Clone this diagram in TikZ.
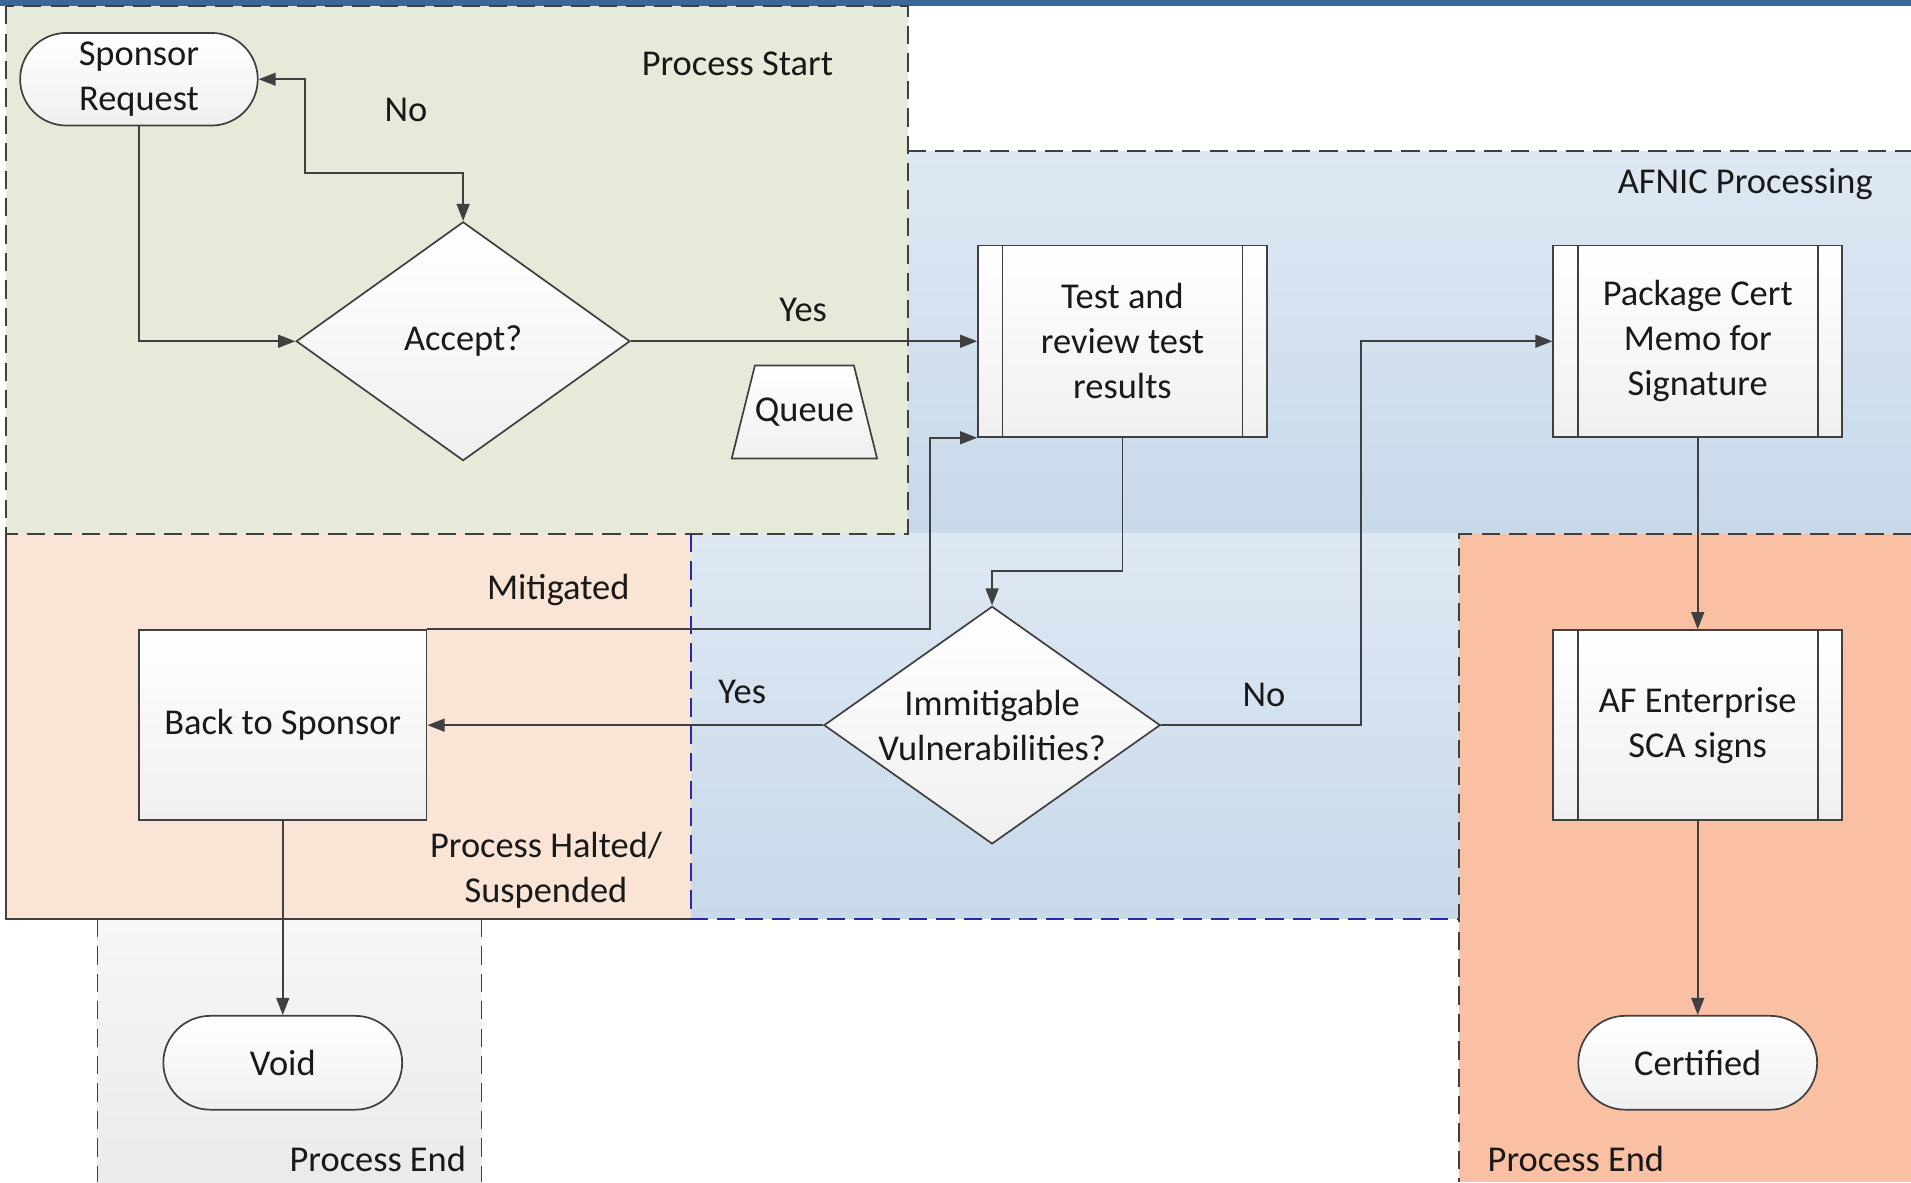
\documentclass[tikz,border=0pt]{standalone}
\usepackage{fontspec}
\setmainfont{Carlito}
\usepackage{xcolor}
\usepackage{tikz}
\usetikzlibrary{shapes,arrows,positioning,calc,arrows.meta}

\definecolor{startgreen}{RGB}{230,234,217}
\definecolor{haltpeach}{RGB}{249,228,213}
\definecolor{afnictop}{RGB}{222,232,243}
\definecolor{afnicbot}{RGB}{200,217,234}
\definecolor{endsalmon}{RGB}{250,192,163}
\definecolor{topbar}{RGB}{58,103,152}
\definecolor{laneblue}{RGB}{40,40,170}
\definecolor{linegray}{RGB}{64,64,64}

\begin{document}
\begin{tikzpicture}[x=0.02cm, y=-0.02cm,
    every node/.style={font=\fontsize{17}{21}\selectfont, text=black!90},
    lane/.style={draw=linegray, line width=0.8pt, dash pattern=on 0.3cm off 0.15cm},
    shapefill/.style={draw=linegray, line width=0.8pt, top color=white, bottom color=gray!12},
    terminal/.style={shapefill, rectangle, rounded corners=0.77cm, minimum width=3.92cm, minimum height=1.54cm, align=center},
    decision/.style={shapefill, diamond, inner sep=0pt, shape aspect=1.4, align=center},
    plainbox/.style={shapefill, rectangle, minimum width=4.72cm, minimum height=3.12cm, align=center},
    procbox/.style={plainbox, path picture={
        \draw[linegray, line width=0.8pt] ([xshift=0.4cm]path picture bounding box.north west) -- ([xshift=0.4cm]path picture bounding box.south west)
            ([xshift=-0.4cm]path picture bounding box.north east) -- ([xshift=-0.4cm]path picture bounding box.south east);}},
    arr/.style={draw=linegray, line width=0.9pt, -{Triangle[length=8pt, width=6pt]}}]

    \useasboundingbox (0,0) rectangle (1568,970);

    % lanes
    \fill[startgreen] (5,5) rectangle (745,438);
    \shade[top color=afnictop, bottom color=afnicbot] (745,124) rectangle (1568,438);
    \shade[top color=afnictop, bottom color=afnicbot] (567,438) rectangle (1197,754);
    \fill[haltpeach] (5,438) rectangle (567,754);
    \shade[top color=gray!7, bottom color=gray!16] (80,754) rectangle (395,970);
    \fill[endsalmon] (1197,438) rectangle (1568,970);
    \fill[topbar] (0,0) rectangle (1568,5);

    \draw[lane] (5,5) rectangle (745,438);
    \draw[lane] (745,124) -- (1568,124);
    \draw[lane, draw=laneblue] (567,438) -- (567,754) -- (1197,754);
    \draw[linegray, line width=0.8pt] (5,438) -- (5,754) -- (567,754);
    \draw[lane] (80,754) -- (80,970) (395,754) -- (395,970);
    \draw[lane] (1568,438) -- (1197,438) -- (1197,970);

    \node (startlbl) at (605,52) {Process Start};
    \node (afniclbl) at (1432,151) {AFNIC Processing};
    \node (mitlbl) at (458,484) {Mitigated};
    \node[align=center] (haltlbl) at (448,714) {Process Halted/\\Suspended};
    \node (voidend) at (310,951) {Process End};
    \node (certend) at (1293,951) {Process End};

    % steps
    \node[terminal, minimum width=3.9cm, minimum height=1.52cm, rounded corners=0.76cm] (req) at (114,65) {Sponsor\\Request};
    \node[decision, minimum width=5.48cm, minimum height=3.92cm] (acc) at (380,280) {Accept?};
    \node[shapefill, trapezium, trapezium left angle=76, trapezium right angle=76,
          inner xsep=0pt, inner ysep=0.53cm] (queue) at (660,338) {Queue};
    \node[procbox, minimum width=4.74cm, minimum height=3.14cm] (test) at (921,280) {Test and\\review test\\results};
    \node[procbox, minimum width=4.74cm, minimum height=3.14cm] (pkg) at (1393,280) {Package Cert\\Memo for\\Signature};
    \node[decision, minimum width=5.52cm, minimum height=3.9cm] (imm) at (814,595) {Immitigable\\Vulnerabilities?};
    \node[plainbox] (back) at (232,595) {Back to Sponsor};
    \node[procbox, minimum width=4.74cm] (af) at (1393,595) {AF Enterprise\\SCA signs};
    \node[terminal] (void) at (232,872) {Void};
    \node[terminal] (cert) at (1393,872) {Certified};

    % connectors
    \coordinate (nobend) at (250,142);
    \draw[arr] (req.south) |- (acc.west);
    \draw[arr, {Triangle[length=8pt, width=6pt]}-{Triangle[length=8pt, width=6pt]}] (req.east) -| (nobend) -| (acc.north);
    \draw[arr] (acc.east) -- (test.west);
    \draw[arr] (test.south) -- ++(0,109) -| (imm.north);
    \draw[arr] (back.north east) -| ([xshift=-0.78cm]test.south west) -- (test.south west);
    \draw[arr] (imm.west) -- (back.east);
    \draw[arr] (imm.east) -| ([xshift=-3.14cm]pkg.west) -- (pkg.west);
    \draw[arr] (pkg.south) -- (af.north);
    \draw[arr] (af.south) -- (cert.north);
    \draw[arr] (back.south) -- (void.north);

    \node (nolbl) at (333,90) {No};
    \node (yeslbl) at (659,254) {Yes};
    \node (yes2lbl) at (609,568) {Yes};
    \node (no2lbl) at (1037,570) {No};
\end{tikzpicture}
\end{document}
